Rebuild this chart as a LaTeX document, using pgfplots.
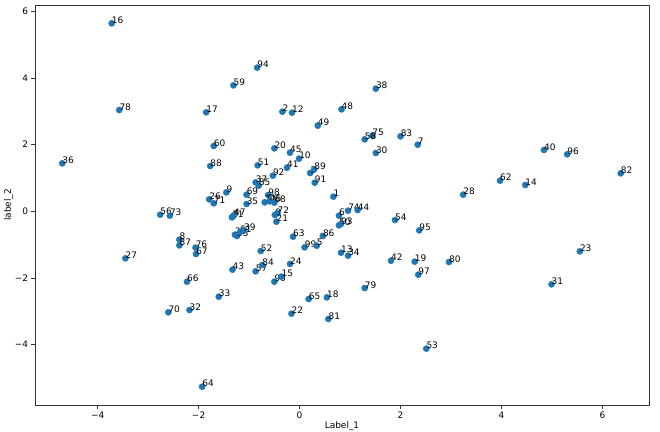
\documentclass[border=0pt]{standalone}
\usepackage{fontspec}
\setmainfont{DejaVu Sans}
\usepackage{pgfplots}
\usepackage{pgfplotstable}
\pgfplotsset{compat=1.18}
\definecolor{mplblue}{HTML}{1F77B4}

% label  x  y
\pgfplotstableread{
lbl x y
16 -3.72 5.64
78 -3.57 3.04
17 -1.85 2.97
59 -1.31 3.78
94 -0.84 4.31
38 1.51 3.68
2 -0.34 2.99
12 -0.15 2.96
48 0.83 3.06
49 0.36 2.57
75 1.44 2.27
58 1.29 2.16
83 2.00 2.25
7 2.34 2.00
30 1.51 1.75
36 -4.70 1.44
60 -1.70 1.96
88 -1.77 1.36
9 -1.45 0.57
26 -1.79 0.36
71 -1.70 0.24
56 -2.76 -0.10
73 -2.57 -0.13
8 -2.38 -0.85
87 -2.38 -1.02
76 -2.06 -1.09
67 -2.05 -1.28
27 -3.45 -1.41
43 -1.33 -1.75
11 -1.34 -0.18
4 -1.32 -0.15
47 -1.30 -0.12
25 -1.28 -0.70
55 -1.24 -0.74
61 -1.18 -0.62
39 -1.10 -0.56
20 -0.50 1.89
45 -0.19 1.76
10 -0.01 1.58
51 -0.83 1.38
41 -0.25 1.31
92 -0.53 1.07
3 0.21 1.15
89 0.29 1.26
91 0.30 0.86
37 -0.87 0.87
85 -0.81 0.77
69 -1.05 0.50
98 -0.62 0.49
77 -0.69 0.27
46 -0.59 0.30
68 -0.50 0.26
35 -1.05 0.22
0 -0.49 -0.11
72 -0.44 -0.06
21 -0.46 -0.31
1 0.67 0.44
74 0.96 0.02
44 1.15 0.04
6 0.78 -0.13
50 0.78 -0.42
93 0.82 -0.38
54 1.89 -0.26
95 2.37 -0.57
63 -0.13 -0.76
86 0.46 -0.74
99 0.10 -1.08
5 0.34 -1.03
52 -0.77 -1.19
13 0.82 -1.24
34 0.96 -1.33
42 1.81 -1.48
19 2.28 -1.51
24 -0.19 -1.58
40 4.84 1.84
96 5.30 1.71
82 6.36 1.14
62 3.97 0.92
14 4.47 0.79
28 3.24 0.50
23 5.55 -1.20
80 2.96 -1.52
66 -2.23 -2.11
33 -1.60 -2.56
70 -2.60 -3.03
32 -2.18 -2.96
64 -1.93 -5.26
57 -0.87 -1.80
84 -0.74 -1.61
90 -0.50 -2.11
15 -0.36 -1.96
65 0.18 -2.63
18 0.54 -2.58
79 1.29 -2.30
22 -0.16 -3.07
81 0.57 -3.23
53 2.51 -4.12
97 2.35 -1.90
31 4.99 -2.19
}\points

\begin{document}
\begin{tikzpicture}
\path[use as bounding box] (0,0) rectangle (660bp,432bp);
\begin{axis}[
    at={(35bp,27bp)}, anchor=south west,
    scale only axis, width=614bp, height=400bp,
    xmin=-5.24, xmax=6.92, ymin=-5.81, ymax=6.19,
    axis line style={black!80, line width=0.8bp},
    tick style={black!80, line width=0.8bp},
    major tick length=3.5bp,
    tick align=outside, tick pos=left,
    xtick={-4,-2,0,2,4,6}, xticklabels={−4,−2,0,2,4,6},
    ytick={-4,-2,0,2,4,6}, yticklabels={−4,−2,0,2,4,6},
    ticklabel style={font=\fontsize{9}{10}\selectfont},
    label style={font=\fontsize{9}{10}\selectfont},
    xlabel={Label\_1}, ylabel={label\_2},
    xlabel style={yshift=4bp},
    ylabel style={yshift=-5bp},
]
\addplot[only marks, mark=*, mark size=3.1bp, mplblue,
    point meta=explicit symbolic,
    nodes near coords,
    nodes near coords style={anchor=base west, inner sep=0pt, black,
        font=\fontsize{9}{10}\selectfont},
] table[x=x, y=y, meta=lbl] {\points};
\end{axis}
\end{tikzpicture}
\end{document}
